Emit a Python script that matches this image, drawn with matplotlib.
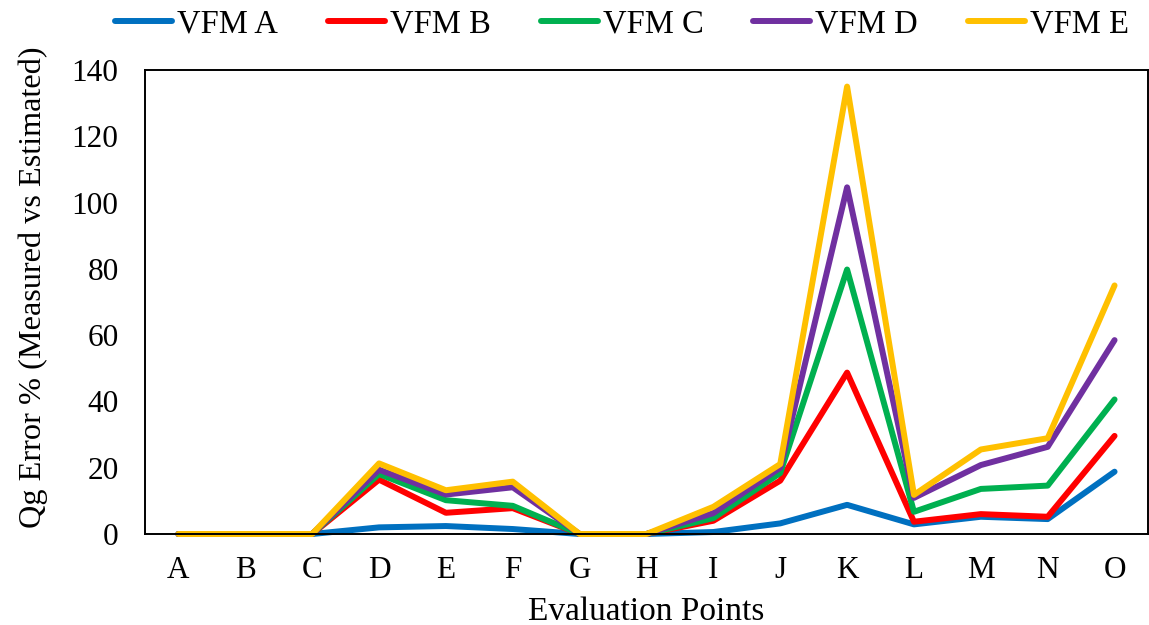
import matplotlib.pyplot as plt
import numpy as np

plt.rcParams["font.family"] = ["Liberation Serif", "DejaVu Serif"]

points = ["A", "B", "C", "D", "E", "F", "G", "H", "I", "J", "K", "L", "M", "N", "O"]
vfm_a = [0, 0, 0, 2.0, 2.4, 1.5, 0, 0, 0.6, 3.2, 8.8, 2.9, 5.2, 4.5, 18.8]
vfm_b = [0, 0, 0, 16.4, 6.4, 7.8, 0, 0, 4.0, 16.1, 48.7, 3.7, 6.0, 5.2, 29.6]
vfm_c = [0, 0, 0, 18.1, 10.2, 8.5, 0, 0, 4.8, 18.4, 79.8, 6.7, 13.6, 14.6, 40.6]
vfm_d = [0, 0, 0, 19.4, 11.9, 14.1, 0, 0, 6.3, 20.0, 104.6, 10.9, 20.8, 26.3, 58.5]
vfm_e = [0, 0, 0, 21.3, 13.2, 15.8, 0, 0, 8.2, 21.1, 135.0, 11.8, 25.5, 28.9, 75.0]

series = {"VFM A": vfm_a, "VFM B": vfm_b, "VFM C": vfm_c, "VFM D": vfm_d, "VFM E": vfm_e}
colors = ["#0070C0", "#FF0000", "#00B050", "#7030A0", "#FFC000"]

fig = plt.figure(figsize=(11.49, 6.25), dpi=100)
ax = fig.add_axes([145 / 1149, 1 - 534 / 625, 1003 / 1149, 464 / 625])

x = np.arange(len(points))
for (name, vals), c in zip(series.items(), colors):
    ax.plot(x, vals, color=c, lw=4.3, label=name, clip_on=False,
            solid_joinstyle="round", solid_capstyle="round")

ax.set_xlim(-0.5, len(points) - 0.5)
ax.set_ylim(0, 140)
ax.set_yticks(np.arange(0, 141, 20))
ax.set_xticks(x)
ax.set_xticklabels(points)
ax.tick_params(length=0, labelsize=22.5)
ax.tick_params(axis="x", pad=16)
ax.tick_params(axis="y", pad=19)
for s in ax.spines.values():
    s.set_linewidth(1.4)

ax.set_xlabel("Evaluation Points", fontsize=24, labelpad=8)
ax.set_ylabel("Qg Error % (Measured vs Estimated)", fontsize=23.2)
ax.yaxis.set_label_coords(-0.097, 0.532)

ax.legend(loc="center left", bbox_to_anchor=(-30 / 1003, 1 + (534 - 24 - 464) / 464),
          ncol=5, frameon=False, fontsize=23.5, handlelength=1.75, handletextpad=0.15,
          columnspacing=1.53, borderaxespad=0, borderpad=0)

fig.savefig("out.png", dpi=100)
